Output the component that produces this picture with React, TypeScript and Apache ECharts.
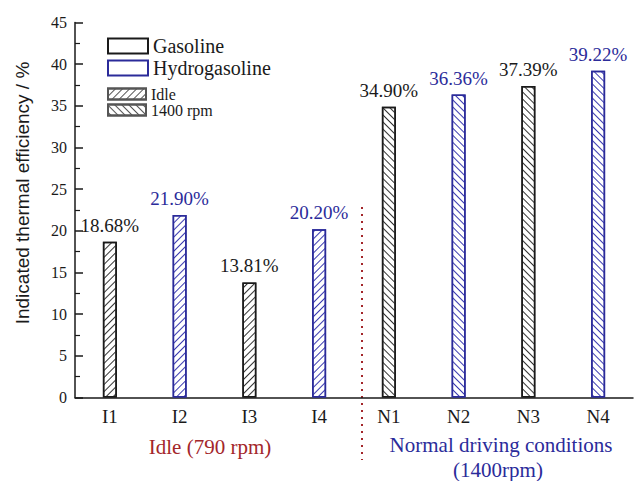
import React, { useEffect, useRef } from "react";
import * as echarts from "echarts";

const categories = ["I1", "I2", "I3", "I4", "N1", "N2", "N3", "N4"];
const gasolineValues: (number | string)[] = [18.68, "-", 13.81, "-", 34.9, "-", 37.39, "-"];
const hydroValues: (number | string)[] = ["-", 21.9, "-", 20.2, "-", 36.36, "-", 39.22];
const idleCategories = ["I1", "I2", "I3", "I4"];
const yTicks = { min: 0, max: 45, interval: 5 };

const SERIF = "'Liberation Serif', 'Times New Roman', serif";
const BLACK = "#1a1a1a";
const BLUE = "#2b2b9a";
const RED = "#a3262a";

const hatch = (color: string, forward: boolean) => ({
  symbol: "rect",
  symbolSize: 1,
  dashArrayX: [1, 0],
  dashArrayY: [1, 4],
  rotation: forward ? -Math.PI / 4 : Math.PI / 4,
  color,
  backgroundColor: "#ffffff",
});

const makeData = (values: (number | string)[], color: string) =>
  values.map((v, i) =>
    v === "-"
      ? "-"
      : {
          value: v,
          itemStyle: { decal: hatch(color, idleCategories.includes(categories[i])) },
        }
  );

export default function App() {
  const ref = useRef<HTMLDivElement>(null);
  useEffect(() => {
    if (!ref.current) return;
    document.body.style.margin = "0";
    const chart = echarts.init(ref.current, undefined, { renderer: "svg" });
    const labelFmt = (p: any) => Number(p.value).toFixed(2) + "%";
    chart.setOption({
      animation: false,
      backgroundColor: "#ffffff",
      grid: { left: 75, right: 10, top: 22.5, bottom: 481 - 397.5, containLabel: false },
      legend: [
        {
          data: ["Gasoline", "Hydrogasoline"],
          orient: "vertical",
          left: 102,
          top: 31,
          itemWidth: 40,
          itemHeight: 15,
          itemGap: 2,
          icon: "rect",
          selectedMode: false,
          textStyle: { fontFamily: SERIF, fontSize: 20, lineHeight: 17, color: BLACK },
        },
        {
          data: ["Idle", "1400 rpm"],
          orient: "vertical",
          left: 102,
          top: 81,
          itemWidth: 38,
          itemHeight: 11,
          itemGap: 0,
          icon: "rect",
          selectedMode: false,
          textStyle: { fontFamily: SERIF, fontSize: 16, color: BLACK },
        },
      ],
      xAxis: {
        type: "category",
        data: categories,
        axisTick: { show: false },
        axisLine: { lineStyle: { color: BLACK, width: 1.5 } },
        axisLabel: { fontFamily: SERIF, fontSize: 19, color: BLACK, margin: 9 },
      },
      yAxis: {
        type: "value",
        min: yTicks.min,
        max: yTicks.max,
        interval: yTicks.interval,
        name: "Indicated thermal efficiency / %",
        nameLocation: "middle",
        nameGap: 43,
        nameRotate: 90,
        nameTextStyle: {
          fontFamily: "'Liberation Sans', Arial, sans-serif",
          fontSize: 19,
          color: BLACK,
          padding: [0, 0, 0, 34],
        },
        axisLine: { show: true, lineStyle: { color: BLACK, width: 1.5 } },
        axisTick: { show: true, inside: true, length: 8, lineStyle: { color: BLACK, width: 1.5 } },
        minorTick: { show: true, splitNumber: 2, length: 5, lineStyle: { color: BLACK, width: 1.2 } },
        splitLine: { show: false },
        axisLabel: { fontFamily: SERIF, fontSize: 16, color: BLACK, margin: 8 },
      },
      series: [
        {
          name: "Gasoline",
          type: "bar",
          barWidth: 14,
          barGap: "-100%",
          data: makeData(gasolineValues, "#333333"),
          itemStyle: { color: "#ffffff", borderColor: BLACK, borderWidth: 1.5 },
          label: {
            show: true,
            position: "top",
            distance: 7,
            formatter: labelFmt,
            fontFamily: SERIF,
            fontSize: 19,
            color: BLACK,
          },
        },
        {
          name: "Hydrogasoline",
          type: "bar",
          barWidth: 14,
          barGap: "-100%",
          data: makeData(hydroValues, "#3a3ab0"),
          itemStyle: { color: "#ffffff", borderColor: BLUE, borderWidth: 1.5 },
          label: {
            show: true,
            position: "top",
            distance: 7,
            formatter: labelFmt,
            fontFamily: SERIF,
            fontSize: 19,
            color: BLUE,
          },
        },
        {
          name: "Idle",
          type: "bar",
          barWidth: 14,
          barGap: "-100%",
          data: [],
          itemStyle: { color: "#ffffff", borderColor: "#555555", borderWidth: 1, decal: hatch("#555555", true) },
        },
        {
          name: "1400 rpm",
          type: "bar",
          barWidth: 14,
          barGap: "-100%",
          data: [],
          itemStyle: { color: "#ffffff", borderColor: "#555555", borderWidth: 1, decal: hatch("#555555", false) },
        },
      ],
      graphic: [
        {
          type: "line",
          shape: { x1: 362, y1: 207, x2: 362, y2: 460 },
          style: { stroke: RED, lineWidth: 2, lineDash: [2, 5] },
        },
        {
          type: "text",
          x: 210,
          y: 447,
          style: {
            text: "Idle (790 rpm)",
            fill: RED,
            fontFamily: SERIF,
            fontSize: 21,
            align: "center",
            verticalAlign: "middle",
          },
        },
        {
          type: "text",
          x: 501,
          y: 445,
          style: {
            text: "Normal driving conditions",
            fill: BLUE,
            fontFamily: SERIF,
            fontSize: 21,
            align: "center",
            verticalAlign: "middle",
          },
        },
        {
          type: "text",
          x: 498,
          y: 470,
          style: {
            text: "(1400rpm)",
            fill: BLUE,
            fontFamily: SERIF,
            fontSize: 21,
            align: "center",
            verticalAlign: "middle",
          },
        },
      ],
    });
    return () => chart.dispose();
  }, []);
  return <div ref={ref} style={{ width: 643, height: 481 }} />;
}
